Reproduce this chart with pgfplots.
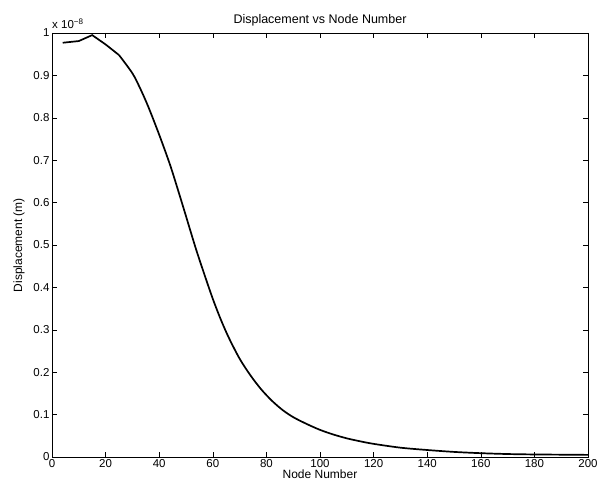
\documentclass[border=0pt]{standalone}
\usepackage{fontspec}
\setmainfont{Liberation Sans}
\usepackage{pgfplots}
\pgfplotsset{compat=1.18}
\begin{document}
\begin{tikzpicture}
\begin{axis}[
  scale only axis,
  width=536bp, height=424bp,
  xmin=0, xmax=200, ymin=0, ymax=1,
  xtick={0,20,...,200},
  ytick={0,0.1,...,1},
  yticklabels={0,0.1,0.2,0.3,0.4,0.5,0.6,0.7,0.8,0.9,1},
  tick align=inside,
  major tick length=5bp,
  tick style={black, line width=0.5bp},
  axis line style={line width=0.7bp},
  /pgf/number format/assume math mode=true,
  ticklabel style={font=\fontsize{11.5bp}{13bp}\selectfont},
  xticklabel style={yshift=1bp},
  yticklabel style={xshift=1bp},
  title={Displacement vs Node Number},
  title style={font=\fontsize{12.5bp}{14bp}\selectfont, yshift=-3bp},
  xlabel={Node Number},
  ylabel={Displacement (m)},
  label style={font=\fontsize{12bp}{14bp}\selectfont},
  xlabel style={yshift=5bp},
  ylabel style={yshift=2bp},
  clip=false,
]
\addplot[black, line width=1.7bp] coordinates {
(4,0.977) (10,0.981) (15,0.995) (20,0.973) (25,0.948)
};
\addplot[black, line width=1.7bp, smooth] coordinates {
(25,0.948) (30,0.905) (33,0.868)
(36,0.825) (40,0.760) (44,0.690) (47,0.630) (50,0.568) (52,0.526) (54,0.485)
(57,0.428) (60,0.373) (63,0.324) (66,0.281) (70,0.232) (74,0.193) (78,0.160)
(82,0.133) (86,0.111) (90,0.094) (95,0.078) (100,0.064) (105,0.053) (110,0.044)
(115,0.037) (120,0.031) (130,0.022) (140,0.0165) (150,0.012) (160,0.009)
(170,0.007) (180,0.006) (190,0.0055) (200,0.005)
};
\node[anchor=south west, inner sep=0pt, font=\fontsize{11.5bp}{13bp}\selectfont] at ([xshift=0bp,yshift=4bp]rel axis cs:0,1) {x 10\textsuperscript{−8}};
\coordinate (sw) at (rel axis cs:0,0);
\coordinate (ne) at (rel axis cs:1,1);
\end{axis}
\pgfresetboundingbox
\path[use as bounding box] ([xshift=-52bp,yshift=-33bp]sw) rectangle ([xshift=11bp,yshift=33bp]ne);
\end{tikzpicture}
\end{document}
